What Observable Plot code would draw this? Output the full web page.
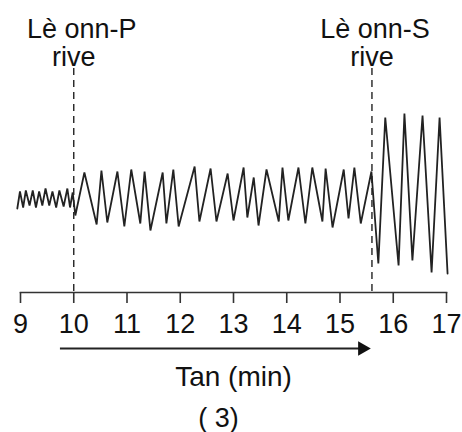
<!DOCTYPE html>
<html>
<head>
<meta charset="utf-8">
<script src="https://cdn.jsdelivr.net/npm/d3@7"></script>
<script src="https://cdn.jsdelivr.net/npm/@observablehq/plot@0.6"></script>
<style>
  html, body { margin: 0; padding: 0; background: #fff; }
  #chart { width: 462px; height: 432px; }
</style>
</head>
<body>
<div id="chart"></div>
<script>
// Time (min) of each vertex of the seismogram trace
const times = [
  8.94, 8.99, 9.05, 9.10, 9.17, 9.23, 9.29, 9.35, 9.41, 9.47, 9.54, 9.60, 9.67, 9.73, 9.81, 9.88, 9.93, 9.98,
  10.03, 10.20, 10.43, 10.52, 10.63, 10.82, 10.95, 11.08, 11.25, 11.33, 11.44, 11.67, 11.74, 11.87, 11.97,
  12.27, 12.36, 12.57, 12.68, 12.89, 13.00, 13.19, 13.26, 13.38, 13.47, 13.62, 13.85, 13.92, 14.03, 14.22,
  14.35, 14.48, 14.67, 14.73, 14.86, 15.07, 15.16, 15.27, 15.39, 15.59,
  15.72, 15.85, 16.10, 16.21, 16.36, 16.55, 16.72, 16.87, 17.02
];
// Ground-motion amplitude (arbitrary units) at each vertex
const amps = [
  -0.8, 0.9, -0.7, 1.0, -0.5, 1.0, -0.7, 0.9, -0.5, 1.2, -0.5, 0.9, -0.7, 1.0, -0.6, 1.2, -0.7, 0.8,
  -1.5, 2.8, -2.4, 3.0, -2.2, 2.9, -2.6, 3.1, -2.3, 2.9, -3.0, 2.8, -2.3, 3.1, -2.6,
  3.4, -2.1, 3.2, -2.1, 2.7, -2.0, 3.3, -1.7, 2.3, -2.5, 3.1, -2.1, 3.3, -2.0, 3.3,
  -2.3, 3.3, -2.1, 3.2, -2.7, 3.1, -1.8, 3.3, -2.3, 2.9,
  -6.3, 8.3, -6.5, 8.7, -6.0, 8.5, -7.2, 8.3, -7.3
];
// Axis ticks
const tickValues = [9, 10, 11, 12, 13, 14, 15, 16, 17];
// Wave arrivals
const arrivalTimes = [10, 15.6];
const arrivalLine1 = ["Lè onn-P", "Lè onn-S"];
const arrivalLine2 = ["rive", "rive"];
// Time arrow span (min) and its y level (amplitude units, below the axis)
const arrowSpan = [9.75, 15.52];
const arrowLevel = [-14.8];
const axisLabel = ["Tan (min)"];
const caption = ["( 3)"];

const trace = times.map((t, i) => ({t, a: amps[i]}));
const font = "'Liberation Sans', Arial, Helvetica, sans-serif";

const chart = Plot.plot({
  width: 462,
  height: 432,
  marginLeft: 20,
  marginRight: 16,
  marginTop: 68,
  marginBottom: 140,
  style: {fontFamily: font, color: "#111", background: "#fff"},
  x: {domain: [9, 17]},
  y: {domain: [-10, 10], range: [300, 100], axis: null},
  marks: [
    Plot.ruleX(arrivalTimes, {stroke: "#222", strokeWidth: 1.4, strokeDasharray: "7,5"}),
    Plot.line(trace, {x: "t", y: "a", stroke: "#222", strokeWidth: 1.8, strokeLinejoin: "miter"}),
    Plot.frame({anchor: "bottom", stroke: "#333", strokeWidth: 1.6}),
    Plot.axisX({ticks: tickValues, tickSize: 11, tickPadding: 10, fontSize: 27, stroke: "#333",
      strokeWidth: 1.6, tickFormat: d => String(d), label: null, fill: "#111"}),
    // arrival labels
    Plot.text([0], {x: i => arrivalTimes[i], text: i => arrivalLine1[i], frameAnchor: "top",
      lineAnchor: "bottom", dy: -31, dx: 8, fontSize: 27, fill: "#111"}),
    Plot.text([1], {x: i => arrivalTimes[i], text: i => arrivalLine1[i], frameAnchor: "top",
      lineAnchor: "bottom", dy: -31, dx: 3, fontSize: 27, fill: "#111"}),
    Plot.text([0, 1], {x: i => arrivalTimes[i], text: i => arrivalLine2[i], frameAnchor: "top",
      lineAnchor: "bottom", dy: -3, fontSize: 27, fill: "#111"}),
    // time arrow
    Plot.ruleY(arrowLevel, {x1: arrowSpan[0], x2: arrowSpan[1] - 0.15, stroke: "#222", strokeWidth: 1.8}),
    Plot.dot(arrowLevel, {x: arrowSpan[1] - 0.1, y: d => d, symbol: "triangle2", rotate: 90, r: 7,
      fill: "#111", stroke: "none"}),
    Plot.text(axisLabel, {text: d => d, frameAnchor: "bottom", lineAnchor: "bottom", dy: 93, fontSize: 28, fill: "#111"}),
    Plot.text(caption, {text: d => d, frameAnchor: "bottom", lineAnchor: "bottom", dy: 134, dx: -15, fontSize: 27, fill: "#111"})
  ]
});
document.getElementById("chart").appendChild(chart);
</script>
</body>
</html>
